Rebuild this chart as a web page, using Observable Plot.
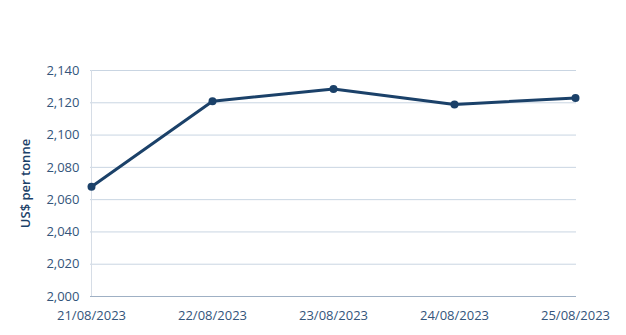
<!DOCTYPE html>
<html>
<head>
<meta charset="utf-8">
<script src="https://cdn.jsdelivr.net/npm/d3@7"></script>
<script src="https://cdn.jsdelivr.net/npm/@observablehq/plot@0.6"></script>
<style>
  body { margin: 0; background: #fff; }
  #chart svg { display: block; }
</style>
</head>
<body>
<div id="chart"></div>
<script>
const dates = ["21/08/2023", "22/08/2023", "23/08/2023", "24/08/2023", "25/08/2023"];
const prices = [2068, 2121, 2128.5, 2119, 2123];
const yTicks = [2000, 2020, 2040, 2060, 2080, 2100, 2120, 2140];
const yLabel = "US$ per tonne";

const data = dates.map((d, i) => ({date: d, price: prices[i]}));
const lineColor = "#1b4169";
const textColor = "#34557b";

const chart = Plot.plot({
  width: 626,
  height: 335,
  marginLeft: 90,
  marginRight: 50,
  marginTop: 70,
  marginBottom: 39,
  style: {fontFamily: "Open Sans, sans-serif", fontSize: "13px", color: textColor, background: "#fff"},
  x: {type: "point", domain: dates, padding: 0, label: null},
  y: {domain: [2000, 2140], ticks: yTicks, label: null, tickFormat: d3.format(",")},
  marks: [
    Plot.gridY(yTicks, {stroke: "#c9d5e2", strokeOpacity: 1, strokeWidth: 1}),
    Plot.ruleX([dates[0]], {stroke: "#d6dde6", strokeWidth: 1}),
    Plot.ruleY([2000], {stroke: "#9fb0c4", strokeWidth: 1}),
    Plot.axisY(yTicks, {tickSize: 0, tickPadding: 11, fill: textColor, fontSize: 13, tickFormat: d3.format(",")}),
    Plot.axisX({tickSize: 0, tickPadding: 14, fill: textColor, fontSize: 13}),
    Plot.text([yLabel], {frameAnchor: "left", textAnchor: "middle", dx: -65, rotate: -90, fill: lineColor, fontSize: 13, fontWeight: 600}),
    Plot.line(data, {x: "date", y: "price", stroke: lineColor, strokeWidth: 3}),
    Plot.dot(data, {x: "date", y: "price", fill: lineColor, r: 4})
  ]
});
document.getElementById("chart").appendChild(chart);
</script>
</body>
</html>
